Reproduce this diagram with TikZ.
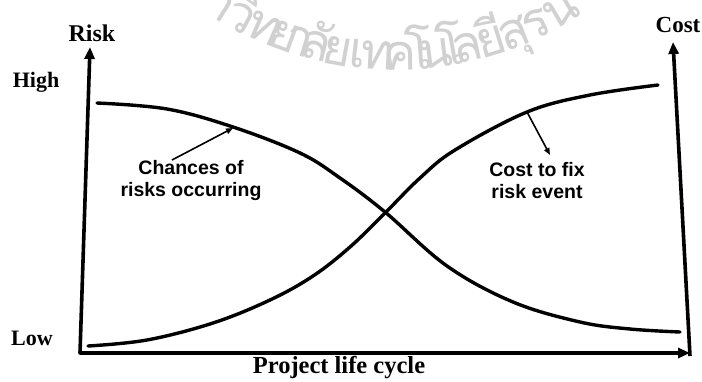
\documentclass[tikz,border=0pt]{standalone}
\usepackage{fontspec}
\setmainfont{Liberation Serif}
\newfontfamily\labelfont{Liberation Sans}
\newfontfamily\thaifont[Script=Thai]{Loma}
\usetikzlibrary{arrows.meta}

\begin{document}
\begin{tikzpicture}[x=1pt,y=-1pt,
  axis/.style={line width=3.6pt, line join=round,
    {Triangle[length=12pt,width=10pt]}-{Triangle[length=12pt,width=10pt]}},
  axisup/.style={line width=3.6pt, -{Triangle[length=12pt,width=10pt]}},
  curve/.style={line width=3.4pt, line cap=round, smooth, tension=0.6},
  pointer/.style={line width=1.6pt, -{Triangle[length=7pt,width=5.5pt]}},
  axislabel/.style={font=\fontsize{22}{24}\selectfont\bfseries, inner sep=0pt, anchor=base},
  note/.style={font=\labelfont\fontsize{19.5}{21.5}\selectfont\bfseries,
    align=center, inner sep=0pt, anchor=base},
  stamp/.style={font=\thaifont\fontsize{50}{52}\selectfont, text=black!18,
    inner sep=0pt, anchor=base}]

\useasboundingbox (0,0) rectangle (702,381);
\fill[white] (0,0) rectangle (702,381);

% faint seal lettering along an arc
\begin{scope}
  \clip (0,0) rectangle (702,381);
  \foreach \t/\x in {า/219,วิ/240,ท/263,ย/283,า/298,ลั/315,ย/337,เ/357,ท/378,ค/400,
                     โ/419,น/436,โ/452,ล/468,ยี/492,สุ/515,ร/537,น/562}{
    \pgfmathsetmacro\a{asin((\x-395)/328)}
    \node[stamp, rotate=\a] at ({395+340*sin(\a)},{-270+340*cos(\a)}) {\t};
  }
\end{scope}

% axes
\coordinate (origin) at (80,353);
\coordinate (ytip)   at (90,47);
\coordinate (xtip)   at (690,353);
\coordinate (cbase)  at (690,356);
\coordinate (ctip)   at (673,42);
\draw[axis] (ytip) -- (origin) -- (xtip);
\draw[axisup] (cbase) -- (ctip);

% axis labels
\node[axislabel, font=\fontsize{24}{26}\selectfont\bfseries] (risk) at (92,41) {Risk};
\node[axislabel] (high) at (36,87)  {High};
\node[axislabel] (low)  at (32,345) {Low};
\node[axislabel, font=\fontsize{23}{25}\selectfont\bfseries] (cost) at (678,32) {Cost};
\node[axislabel, font=\fontsize{24.5}{26}\selectfont\bfseries] (plc) at (339,373) {Project life cycle};

% falling curve: chances of risks occurring
\draw[curve] plot coordinates {(97,103) (167,109) (233,127) (300,153) (340,178) (385,212)
  (447,266) (513,302) (580,322) (630,329) (680,332)};

% rising curve: cost to fix risk event
\draw[curve] plot coordinates {(88,346) (147,340) (213,323) (270,300) (313,276) (350,247)
  (385,213) (420,178) (455,150) (527,112) (590,95) (658,85)};

% curve notes (anchored on the baseline of the second line)
\node[note] (chances) at (191,196) {Chances of\\risks occurring};
\node[note] (costfix) at (537,198) {Cost to fix\\risk event};

\coordinate (chtail)  at (172,160);
\coordinate (riskpt)  at (233,128);
\coordinate (costpt)  at (527,112);
\coordinate (fixtip)  at (550,155);
\draw[pointer] (chtail) -- (riskpt);
\draw[pointer] (costpt) -- (fixtip);
\end{tikzpicture}
\end{document}
